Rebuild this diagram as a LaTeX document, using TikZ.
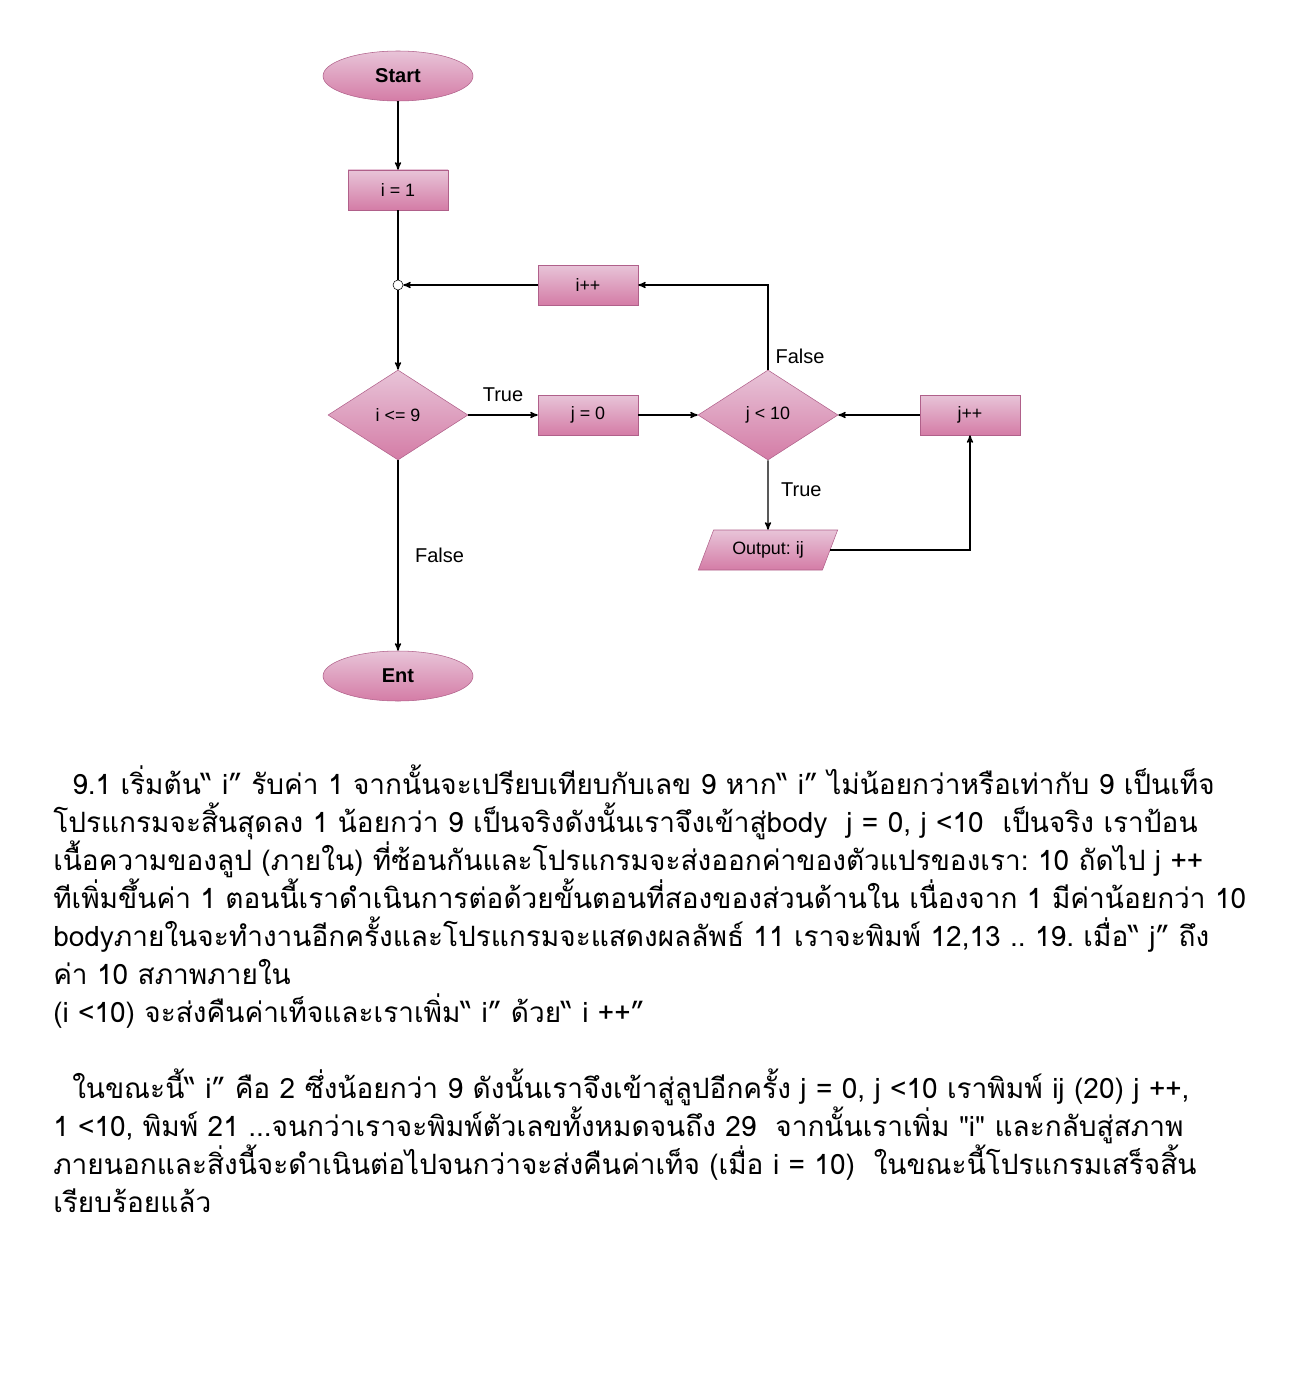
\documentclass[tikz,border=0pt]{standalone}
\usepackage{fontspec}
\setmainfont{Liberation Sans}
\newfontfamily\thaifont[Script=Thai]{Loma}
\usetikzlibrary{shapes,arrows,positioning}
\frenchspacing
\definecolor{pktop}{HTML}{E8C4D8}
\definecolor{pkbot}{HTML}{D47CA6}
\definecolor{pkline}{HTML}{B0608A}
\tikzstyle{tn}=[ellipse, draw=pkline, top color=pktop, bottom color=pkbot, inner sep=0pt, minimum width=112.5pt, minimum height=37.5pt, font=\fontsize{15}{17}\selectfont\bfseries]
\tikzstyle{pn}=[rectangle, draw=pkline, top color=pktop, bottom color=pkbot, inner sep=0pt, minimum width=75pt, minimum height=30pt]
\tikzstyle{dn}=[diamond, draw=pkline, top color=pktop, bottom color=pkbot, inner sep=0pt, minimum width=105pt, minimum height=67.5pt]
\tikzstyle{on}=[trapezium, trapezium left angle=59, trapezium right angle=121, trapezium stretches=true, draw=pkline, top color=pktop, bottom color=pkbot, inner sep=0pt, minimum width=105pt, minimum height=30pt]
\tikzstyle{jn}=[circle, draw, fill=white, inner sep=0pt, minimum size=7.5pt]
\tikzstyle{el}=[font=\fontsize{15}{17}\selectfont]
\tikzstyle{tx}=[anchor=base west, inner sep=0pt, font=\thaifont\fontsize{21}{28}\selectfont]

\begin{document}
\begin{tikzpicture}[x=0.75pt, y=-0.75pt, font=\fontsize{13.4}{15}\selectfont, >=stealth']
\useasboundingbox (0,0) rectangle (1301,1380);
% flowchart
\node[tn] (start) at (398,76) {Start};
\node[pn] (i1) at (398,190) {i = 1};
\node[jn] (jn) at (398,285) {};
\node[pn] (ipp) at (588,285) {i++};
\node[dn] (d1) at (398,415) {i <= 9};
\node[pn] (j0) at (588,415) {j = 0};
\node[dn] (d2) at (768,415) {j < 10};
\node[pn] (jpp) at (970,415) {j++};
\node[on] (out) at (768,550) {Output: ij};
\node[tn] (ent) at (398,676) {Ent};

\begin{scope}[line width=1pt]
\draw[->] (start) -- (i1);
\draw (i1) -- (jn);
\draw[->] (jn) -- (d1);
\draw[->] (ipp) -- (jn);
\draw[->] (d1) -- node[el, above=6pt] {True} (j0);
\draw[->] (j0) -- (d2);
\draw[->] (d2.north) |- (ipp);
\draw[->] (d2) -- node[el, right=6pt, yshift=4pt] {True} (out);
\draw[->] (out) -| (jpp);
\draw[->] (jpp) -- (d2);
\draw[->] (d1) -- node[el, right=9pt] {False} (ent);
\end{scope}
\node[el] (lf) at (800,356) {False};

% text
\node[tx] (l1) at (72,794) {9.1 เริ่มต้น“ i” รับค่า 1 จากนั้นจะเปรียบเทียบกับเลข 9 หาก“ i” ไม่น้อยกว่าหรือเท่ากับ 9 เป็นเท็จ};
\node[tx] (l2) at (53,832) {โปรแกรมจะสิ้นสุดลง 1 น้อยกว่า 9 เป็นจริงดังนั้นเราจึงเข้าสู่body\ \ j = 0, j <10\ \ เป็นจริง เราป้อน};
\node[tx] (l3) at (53,870) {เนื้อความของลูป (ภายใน) ที่ซ้อนกันและโปรแกรมจะส่งออกค่าของตัวแปรของเรา: 10 ถัดไป j ++};
\node[tx] (l4) at (53,908) {ทีเพิ่มขึ้นค่า 1 ตอนนี้เราดำเนินการต่อด้วยขั้นตอนที่สองของส่วนด้านใน เนื่องจาก 1 มีค่าน้อยกว่า 10};
\node[tx] (l5) at (53,946) {bodyภายในจะทำงานอีกครั้งและโปรแกรมจะแสดงผลลัพธ์ 11 เราจะพิมพ์ 12,13 .. 19. เมื่อ“ j” ถึง};
\node[tx] (l6) at (53,984) {ค่า 10 สภาพภายใน};
\node[tx] (l7) at (53,1022) {(i <10) จะส่งคืนค่าเท็จและเราเพิ่ม“ i” ด้วย“ i ++”};
\node[tx] (l8) at (72,1098) {ในขณะนี้“ i” คือ 2 ซึ่งน้อยกว่า 9 ดังนั้นเราจึงเข้าสู่ลูปอีกครั้ง j = 0, j <10 เราพิมพ์ ij (20) j ++,};
\node[tx] (l9) at (53,1136) {1 <10, พิมพ์ 21 ...จนกว่าเราจะพิมพ์ตัวเลขทั้งหมดจนถึง 29\ \ จากนั้นเราเพิ่ม "i" และกลับสู่สภาพ};
\node[tx] (l10) at (53,1174) {ภายนอกและสิ่งนี้จะดำเนินต่อไปจนกว่าจะส่งคืนค่าเท็จ (เมื่อ i = 10)\ \ ในขณะนี้โปรแกรมเสร็จสิ้น};
\node[tx] (l11) at (53,1212) {เรียบร้อยแล้ว};
\end{tikzpicture}
\end{document}
